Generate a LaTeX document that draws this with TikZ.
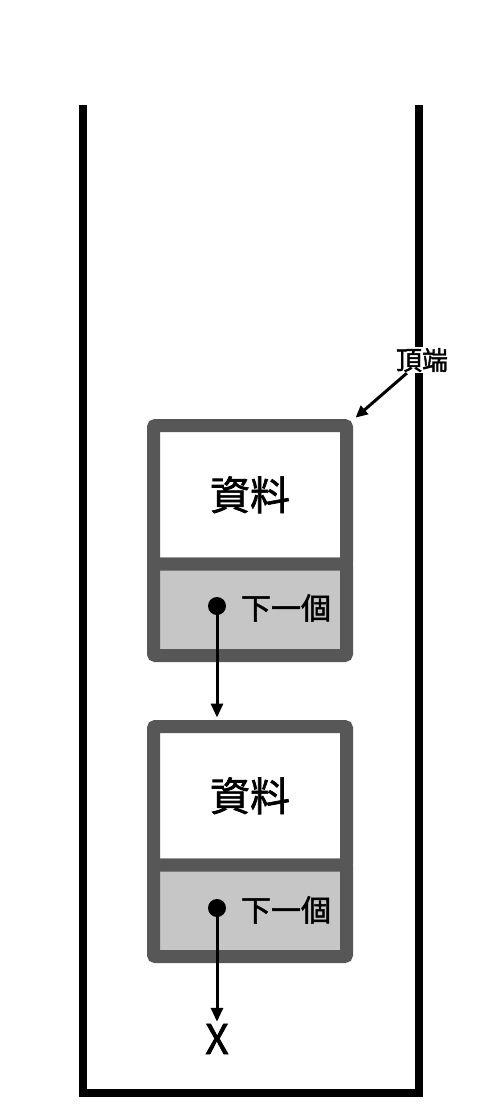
\documentclass[tikz,border=0pt]{standalone}
\usepackage{fontspec}
\setmainfont{Noto Sans CJK TC}
\newfontfamily\medfont{Noto Sans CJK TC}[FakeBold=1.6]
\usetikzlibrary{arrows.meta, positioning}
\definecolor{cellgray}{HTML}{575757}
\definecolor{nextgray}{HTML}{C6C6C6}

\begin{document}
\begin{tikzpicture}[x=1pt,y=1pt,node distance=71pt,
        cell/.style={draw=cellgray, line width=13pt, minimum width=193pt, outer sep=0pt, inner sep=0pt, rounded corners=2pt},
        datacell/.style={cell, fill=white, minimum height=138.5pt, font=\medfont\fontsize{40}{44}\selectfont},
        nextcell/.style={cell, fill=nextgray, minimum height=91.5pt},
        nexttext/.style={font=\medfont\fontsize{30}{32}\selectfont, inner sep=0pt},
        ptdot/.style={circle, fill=black, minimum size=18pt, inner sep=0pt},
        ptr/.style={-{Triangle[length=14pt,width=12pt]}, line width=3pt},
        wall/.style={line width=8pt, miter limit=10}]
        \useasboundingbox (0,0) rectangle (503,-1105);

        % the stack
        \draw[wall] (82.5,-105) -- (82.5,-1093) -- (418.5,-1093) -- (418.5,-105);

        \node[datacell]   (data1)  at (250,-494.75)                {資料};
        \node[nextcell]   (next1)  [below=0pt of data1]            {};
        \node[ptdot]      (dot1)   at (217,-606)                   {};
        \node[nexttext]   (lbl1)   at (286,-608)                   {下一個};

        \node[datacell]   (data2)  [below=of next1]                {資料};
        \node[nextcell]   (next2)  [below=0pt of data2]            {};
        \node[ptdot]      (dot2)   [on grid, below=302pt of dot1]  {};
        \node[nexttext]   (lbl2)   [on grid, below=302pt of lbl1]  {下一個};

        \node[font=\medfont\fontsize{41}{44}\selectfont, inner sep=2pt] (nil) at (217,-1039) {X};
        \node[fill=white, inner sep=1pt, font=\medfont\fontsize{26}{28}\selectfont] (top) at (422,-360) {頂端};

        \draw[ptr] (dot1.center) -- (dot1 |- data2.north) [shorten >=9pt];
        \draw[ptr] (dot2.center) -- (nil);
        \draw[-{Triangle[length=12pt,width=11pt]}, line width=3pt, shorten >=12pt] (top) -- (data1.north east);
\end{tikzpicture}
\end{document}
